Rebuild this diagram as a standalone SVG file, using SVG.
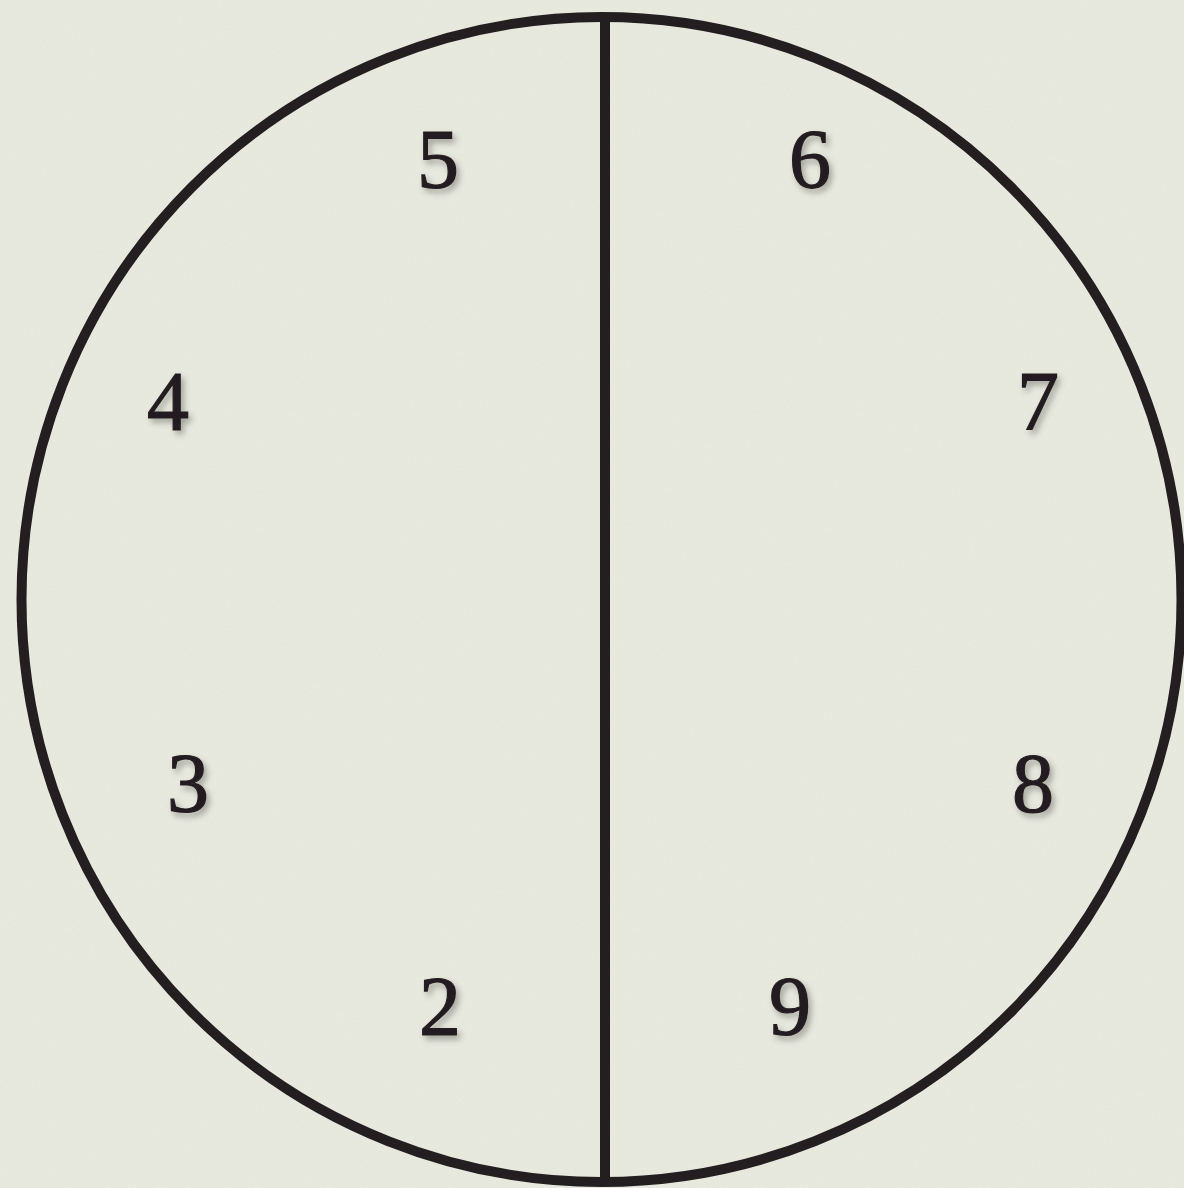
<svg xmlns="http://www.w3.org/2000/svg" width="1184" height="1188" viewBox="0 0 1184 1188">
<defs>
<filter id="paper" x="0" y="0" width="100%" height="100%">
<feTurbulence type="fractalNoise" baseFrequency="0.9 0.35" numOctaves="2" seed="3" result="n"/>
<feColorMatrix in="n" type="matrix" values="0 0 0 0 0.55  0 0 0 0 0.57  0 0 0 0 0.5  0 0 0 0.15 0" result="c"/>
<feComposite in="c" in2="SourceGraphic" operator="over"/>
</filter>
<filter id="shadow" x="-30%" y="-30%" width="160%" height="160%">
<feDropShadow dx="3" dy="4" stdDeviation="3" flood-color="#000" flood-opacity="0.3"/>
</filter>
<style>
.ring{fill:none;stroke:#231f20;stroke-width:10}
.num{font-family:"Liberation Serif","DejaVu Serif",serif;font-size:84px;fill:#231f20;stroke:#231f20;stroke-width:1.2;text-anchor:middle;filter:url(#shadow)}
</style>
</defs>
<rect x="0" y="0" width="1184" height="1188" fill="#e9ebe1" filter="url(#paper)"/>
<g id="circle">
<ellipse class="ring" cx="601.5" cy="599.5" rx="580" ry="582.5"/>
</g>
<g id="connectors">
<line class="ring" x1="605" y1="17" x2="605" y2="1182"/>
</g>
<g id="n5"><text class="num" x="438" y="188">5</text></g>
<g id="n6"><text class="num" x="810" y="188">6</text></g>
<g id="n4"><text class="num" x="168" y="430">4</text></g>
<g id="n7"><text class="num" x="1038" y="430">7</text></g>
<g id="n3"><text class="num" x="188" y="812">3</text></g>
<g id="n8"><text class="num" x="1033" y="812">8</text></g>
<g id="n2"><text class="num" x="440" y="1035">2</text></g>
<g id="n9"><text class="num" x="790" y="1035">9</text></g>
</svg>
